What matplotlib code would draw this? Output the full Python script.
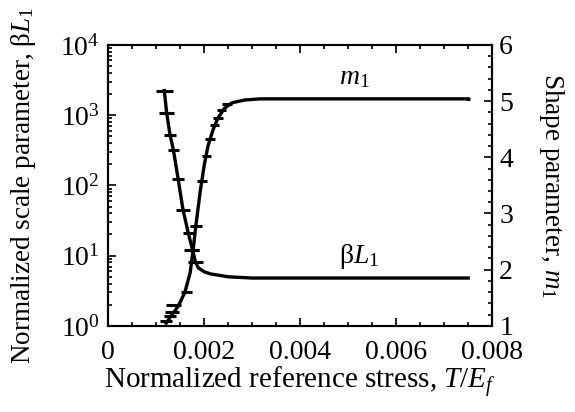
import matplotlib
matplotlib.use('Agg')
import matplotlib.pyplot as plt
from matplotlib.ticker import MultipleLocator, LogLocator, NullFormatter

plt.rcParams['font.family'] = 'Liberation Serif'
plt.rcParams['mathtext.fontset'] = 'custom'
plt.rcParams['mathtext.rm'] = 'Liberation Serif'
plt.rcParams['mathtext.it'] = 'Liberation Serif:italic'

# fitted curve, scale parameter (left axis)
bl_x = [0.00117, 0.00122, 0.00129, 0.00136, 0.00146, 0.00156, 0.00167, 0.00177,
        0.00182, 0.00188, 0.00200, 0.00213, 0.00250, 0.00300, 0.00750]
bl_y = [2240, 1070, 525, 320, 122, 45, 21, 11.3, 8.1, 6.7, 5.9, 5.5, 5.0, 4.8, 4.8]

# measured scale parameter points with x spread
bl_px = [0.00117, 0.00122, 0.00129, 0.00136, 0.00146, 0.00156, 0.00167, 0.00174, 0.00182]
bl_py = [2240, 1070, 525, 320, 122, 45, 21, 12, 8.1]
bl_err = [0.00018, 0.00015, 0.00012, 0.00012, 0.00012, 0.00015, 0.00012, 0.00015, 0.00015]

# fitted curve, shape parameter (right axis)
m_x = [0.00121, 0.00133, 0.00146, 0.00160, 0.00171, 0.00177, 0.00183, 0.00192,
       0.00200, 0.00208, 0.00219, 0.00229, 0.00242, 0.00258, 0.00285, 0.00317, 0.00750]
m_y = [1.05, 1.20, 1.35, 1.60, 1.95, 2.35, 2.80, 3.40, 3.85, 4.20, 4.50, 4.70,
       4.87, 4.97, 5.02, 5.04, 5.04]

# measured shape parameter points
m_px = [0.00121, 0.00129, 0.00133, 0.00136, 0.00163, 0.00175, 0.00183, 0.00195,
        0.00205, 0.00212, 0.00222, 0.00229, 0.00236, 0.00248, 0.00750]
m_py = [1.08, 1.17, 1.25, 1.37, 1.61, 2.35, 2.77, 3.57, 4.03, 4.33, 4.58, 4.70,
        4.84, 4.94, 5.04]
m_err = [0.00012, 0.00012, 0.00015, 0.00015, 0.00012, 0.00015, 0.00012, 0.0001,
         0.0001, 0.0001, 0.0001, 0.0001, 0.0001, 0.0001, 0.00004]

fs = 20

fig = plt.figure(figsize=(5.75, 4.12), dpi=100)
ax = fig.add_axes([0.188, 0.209, 0.668, 0.682])
ax2 = ax.twinx()

ax.plot(bl_x, bl_y, 'k-', lw=2.4)
ax.errorbar(bl_px, bl_py, xerr=bl_err, fmt='none', ecolor='k', elinewidth=2.2, capsize=0)

ax2.plot(m_x, m_y, 'k-', lw=2.4)
ax2.errorbar(m_px, m_py, xerr=m_err, fmt='none', ecolor='k', elinewidth=2.2, capsize=0)

ax.set_yscale('log')
ax.set_ylim(1, 1e4)
ax.set_xlim(0, 0.008)
ax2.set_ylim(1, 6)

ax.xaxis.set_major_locator(MultipleLocator(0.002))
ax.xaxis.set_minor_locator(MultipleLocator(0.0005))
ax.xaxis.set_major_formatter(plt.FuncFormatter(lambda v, p: '0' if v == 0 else '%g' % v))
ax.yaxis.set_major_locator(LogLocator(base=10, numticks=10))
ax.yaxis.set_minor_locator(LogLocator(base=10, subs=range(2, 10), numticks=20))
ax.yaxis.set_minor_formatter(NullFormatter())
ax2.yaxis.set_major_locator(MultipleLocator(1))
ax2.yaxis.set_minor_locator(MultipleLocator(0.2))

ax.tick_params(which='both', direction='in', top=True, labelsize=fs, width=1.2)
ax.tick_params(which='major', length=6)
ax.tick_params(which='minor', length=3)
ax.tick_params(axis='x', pad=10)
ax.tick_params(axis='y', pad=6)
ax2.tick_params(which='both', direction='in', labelsize=fs, width=1.2, pad=5)
ax2.tick_params(which='major', length=6)
ax2.tick_params(which='minor', length=3)

for sp in ax.spines.values():
    sp.set_linewidth(1.5)
for sp in ax2.spines.values():
    sp.set_linewidth(1.5)

ax.set_xlabel('Normalized reference stress, $T/E_f$', fontsize=21, labelpad=0)
ax.set_ylabel('Normalized scale parameter, β$L_1$', fontsize=19.5, labelpad=16)
ax2.set_ylabel('Shape parameter, $m_1$', fontsize=19.5, rotation=270, labelpad=38)

ax2.text(0.0048, 5.3, '$m_1$', fontsize=20)
ax2.text(0.0048, 2.12, 'β$L_1$', fontsize=20)

fig.savefig('out.png', dpi=100)
